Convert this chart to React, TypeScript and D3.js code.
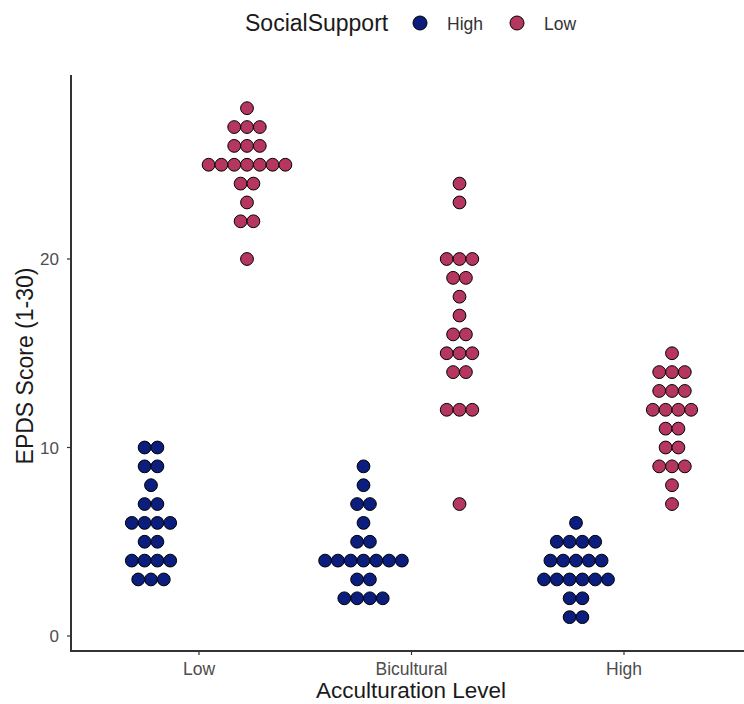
import React from "react";
import * as d3 from "d3";

const levels = ["Low", "Bicultural", "High"];
const supports = ["High", "Low"];
const supportColors = ["#0b1e7e", "#b5375f"];

// [score, count] per row for each acculturation level x social support
const lowHigh: [number, number][] = [[10, 2], [9, 2], [8, 1], [7, 2], [6, 4], [5, 2], [4, 4], [3, 3]];
const lowLow: [number, number][] = [[28, 1], [27, 3], [26, 3], [25, 7], [24, 2], [23, 1], [22, 2], [20, 1]];
const biHigh: [number, number][] = [[9, 1], [8, 1], [7, 2], [6, 1], [5, 2], [4, 7], [3, 2], [2, 4]];
const biLow: [number, number][] = [[24, 1], [23, 1], [20, 3], [19, 2], [18, 1], [17, 1], [16, 2], [15, 3], [14, 2], [12, 3], [7, 1]];
const highHigh: [number, number][] = [[6, 1], [5, 4], [4, 5], [3, 6], [2, 2], [1, 2]];
const highLow: [number, number][] = [[15, 1], [14, 3], [13, 3], [12, 4], [11, 2], [10, 2], [9, 3], [8, 1], [7, 1]];

const groups = [
  { level: "Low", support: "High", rows: lowHigh },
  { level: "Low", support: "Low", rows: lowLow },
  { level: "Bicultural", support: "High", rows: biHigh },
  { level: "Bicultural", support: "Low", rows: biLow },
  { level: "High", support: "High", rows: highHigh },
  { level: "High", support: "Low", rows: highLow },
];

const yTicks = [0, 10, 20];

export default function App() {
  const W = 744, H = 704;
  const left = 71, bottom = 651, top = 75;
  const step = 212.5;
  const x = d3.scalePoint<string>().domain(levels).range([199, 199 + 2 * step]);
  const y = d3.scaleLinear().domain([0, 20]).range([636, 259]);
  const dodge = 48;
  const color = d3.scaleOrdinal<string, string>().domain(supports).range(supportColors);
  const r = 6.4;
  const dx = 12.8;
  const font = "Liberation Sans, Arial, sans-serif";

  const dots: { cx: number; cy: number; fill: string }[] = [];
  groups.forEach((g) => {
    const cx0 = (x(g.level) as number) + (g.support === "High" ? -dodge : dodge);
    g.rows.forEach(([v, n]) => {
      for (let i = 0; i < n; i++) {
        dots.push({ cx: cx0 + (i - (n - 1) / 2) * dx, cy: y(v), fill: color(g.support) });
      }
    });
  });

  return (
    <svg width={W} height={H} style={{ position: "absolute", left: 0, top: 0, background: "#fff" }} fontFamily={font}>
      {/* legend */}
      <text x={245} y={31} fontSize={23} fill="#1a1a1a">SocialSupport</text>
      {supports.map((s, i) => (
        <g key={s}>
          <circle cx={420 + i * 97} cy={23} r={7} fill={color(s)} stroke="#000" strokeWidth={1} />
          <text x={447 + i * 97} y={29.5} fontSize={17.5} fill="#333">{s}</text>
        </g>
      ))}
      {/* axes */}
      <line x1={left} x2={left} y1={top} y2={bottom + 1} stroke="#333" strokeWidth={2} />
      <line x1={left - 1} x2={W} y1={bottom} y2={bottom} stroke="#333" strokeWidth={2} />
      {yTicks.map((t) => (
        <g key={t}>
          <line x1={left - 4} x2={left} y1={y(t)} y2={y(t)} stroke="#333" strokeWidth={1.2} />
          <text x={left - 12} y={y(t) + 6} fontSize={17} fill="#4d4d4d" textAnchor="end">{t}</text>
        </g>
      ))}
      {levels.map((l) => (
        <g key={l}>
          <line x1={x(l)} x2={x(l)} y1={bottom} y2={bottom + 4} stroke="#333" strokeWidth={1.2} />
          <text x={x(l)} y={675} fontSize={17.5} fill="#4d4d4d" textAnchor="middle">{l}</text>
        </g>
      ))}
      <text x={411} y={698} fontSize={22.5} fill="#1a1a1a" textAnchor="middle">Acculturation Level</text>
      <text transform={`translate(33,366) rotate(-90)`} fontSize={23} fill="#1a1a1a" textAnchor="middle">EPDS Score (1-30)</text>
      {dots.map((d, i) => (
        <circle key={i} cx={d.cx} cy={d.cy} r={r} fill={d.fill} stroke="#000" strokeWidth={1} />
      ))}
    </svg>
  );
}
